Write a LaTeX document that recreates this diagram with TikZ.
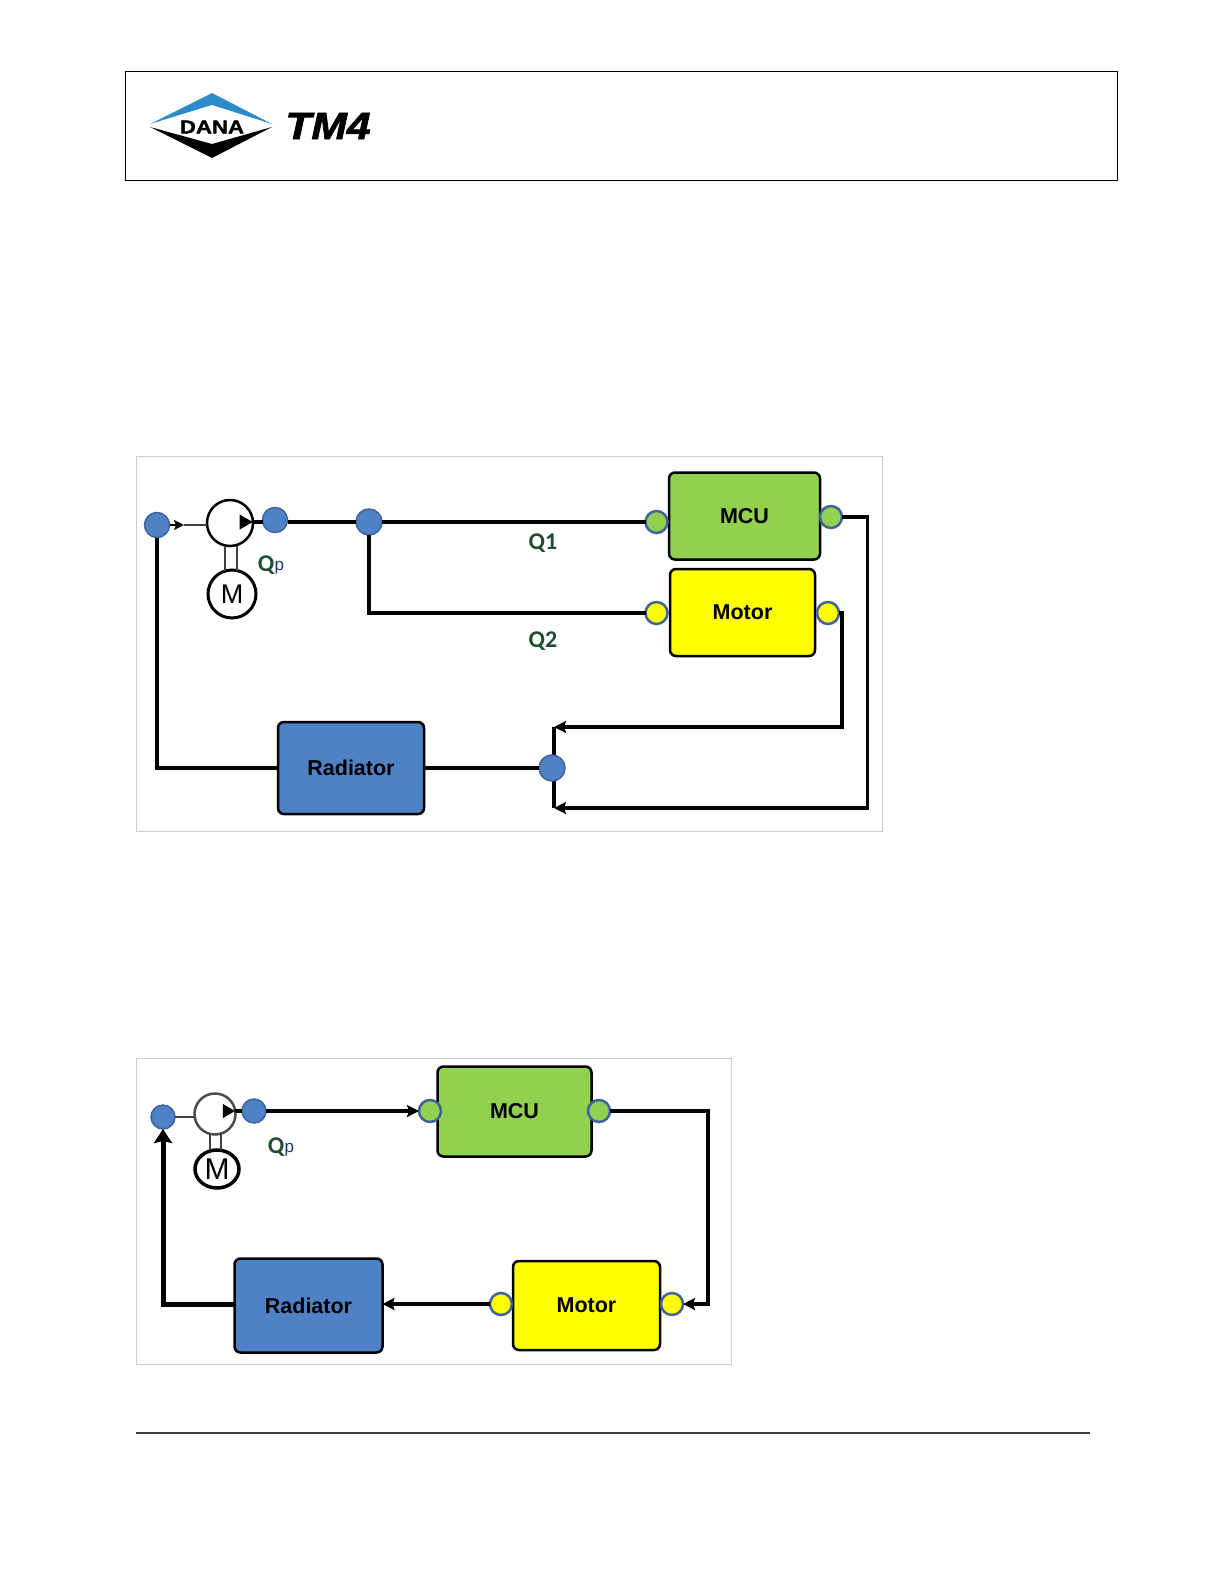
\documentclass[tikz,border=0pt]{standalone}
\usepackage{fontspec}
\setmainfont{Liberation Sans}
\newfontfamily\qfont{Carlito}
\newfontfamily\danafont[FakeBold=1.5,FakeStretch=1.2]{Liberation Sans Bold}
\newfontfamily\logofont[FakeBold=2,FakeStretch=1.12]{Liberation Sans Bold Italic}
\usetikzlibrary{shapes.geometric, arrows.meta, positioning, calc}
\definecolor{mcugreen}{HTML}{92D050}
\definecolor{motoryellow}{HTML}{FFFF00}
\definecolor{radblue}{HTML}{4F81C7}
\definecolor{portedge}{HTML}{41639A}
\definecolor{qgreen}{HTML}{1F4E2F}
\definecolor{danablue}{HTML}{2E8BC9}

\begin{document}
\begin{tikzpicture}[
  x=1pt, y=-1pt,
  box/.style={rectangle, draw, line width=2.5pt, rounded corners=6pt, inner sep=0pt, outer sep=0pt, font=\fontsize{21.5}{24}\selectfont\bfseries},
  port/.style={circle, draw=portedge, line width=2.5pt, minimum size=22pt, inner sep=0pt, outer sep=0pt},
  dotport/.style={port, fill=radblue, minimum size=25pt, line width=1.5pt},
  pump/.style={circle, draw, line width=2.5pt, fill=white, inner sep=0pt, outer sep=0pt},
  frame/.style={draw=black!20, line width=1pt},
  pipe/.style={line width=3.5pt},
  arrow/.style={pipe, -{Stealth[length=12pt, width=12pt, inset=2pt]}},
  thinpipe/.style={line width=2.5pt, black!75},
  qlabel/.style={font=\qfont\fontsize{24}{26}\selectfont\bfseries, text=qgreen, inner sep=0pt},
  plabel/.style={font=\fontsize{17}{18}\selectfont, text=qgreen!70!blue, inner sep=0pt},
  tip/.style={isosceles triangle, isosceles triangle stretches, fill=black, minimum height=13pt, minimum width=15pt, inner sep=0pt, outer sep=0pt},
]
\useasboundingbox (0,0) rectangle (1224,1584);

\node[draw, line width=1pt, minimum width=992pt, minimum height=109pt, inner sep=0pt] (header) at (621,126) {};
\fill[danablue] (150,124) -- (212,93) -- (272,124) -- (212,105) -- cycle;
\fill[black] (150,127) -- (212,158) -- (272,127) -- (212,144) -- cycle;
\node[font=\danafont\fontsize{18.5}{20}\selectfont, inner sep=0pt] (dana) at (212,127) {DANA};
\node[font=\logofont\fontsize{38}{40}\selectfont, inner sep=0pt] (tmfour) at (328,126) {TM4};

\node[frame, minimum width=746pt, minimum height=375pt, inner sep=0pt] (frameA) at (509,643.5) {};

\node[box, fill=mcugreen, minimum width=151pt, minimum height=87pt] (mcuA) at (744.5,516) {MCU};
\node[box, fill=motoryellow, minimum width=145pt, minimum height=87pt] (motorA) at (742.5,612.5) {Motor};
\node[box, fill=radblue, minimum width=146pt, minimum height=92pt] (radA) at (351,768) {Radiator};

\node[dotport] (inA) at (157,525) {};
\node[pump, minimum size=46pt] (pumpA) at (230,523) {};
\node[dotport] (outA) at (275,520) {};
\node[dotport, minimum size=26pt] (splitA) at (369,522) {};
\node[port, fill=mcugreen] (mcuInA) at (656.5,522) {};
\node[port, fill=mcugreen] (mcuOutA) at (831,517) {};
\node[port, fill=motoryellow] (motorInA) at (656.5,613) {};
\node[port, fill=motoryellow] (motorOutA) at (828,613) {};
\node[pump, minimum size=48pt, line width=3pt, font=\fontsize{27}{28}\selectfont] (fanA) at (232,594) {M};
\node[tip] (tipA) at (244,522) {};

\coordinate (arrowA) at (184,525);
\coordinate (shaftA) at (225,546);
\coordinate (shaftB) at (225,571);
\coordinate (shaftC) at (237,546);
\coordinate (shaftD) at (237,571);
\coordinate (cornerA) at (369,613);
\coordinate (mcuBackA) at (554,808);
\coordinate (motorBackA) at (554,727);
\coordinate (mcuRightA) at (867.5,517);
\coordinate (motorRightA) at (842,613);
\coordinate (radLeftA) at (157,768);

\draw[thinpipe, black, -{Stealth[length=10pt, width=10pt, inset=2pt]}] (inA) -- (arrowA);
\draw[thinpipe] (arrowA) -- (arrowA -| pumpA.west);
\draw[pipe] (tipA) -- (outA.west |- tipA);
\draw[pipe] (outA.east |- tipA) -- (splitA);
\draw[pipe] (splitA) -- (mcuInA);
\draw[pipe] (splitA) -- (cornerA) -- (motorInA);
\draw[thinpipe] (shaftA) -- (shaftB);
\draw[thinpipe] (shaftC) -- (shaftD);
\draw[arrow] (mcuOutA) -- (mcuRightA) |- (mcuBackA);
\draw[arrow] (motorOutA) -- (motorRightA) |- (motorBackA);
\draw[pipe] (motorBackA) -- (mcuBackA);
\node[dotport, minimum size=26pt] (mergeA) at (552,768) {};
\draw[pipe] (radA) -- (mergeA);
\draw[pipe] (radA) -- (radLeftA) -- (inA);

\node[qlabel] (qoneA) at (543,543) {Q1};
\node[qlabel] (qtwoA) at (543,641) {Q2};
\node[qlabel] (qpA) at (266,565) {Q};
\node[plabel, right=0pt of qpA, yshift=-3pt] (qpsubA) {p};

\node[frame, minimum width=595pt, minimum height=306pt, inner sep=0pt] (frameB) at (433.5,1211) {};

\node[box, fill=mcugreen, minimum width=154pt, minimum height=90pt] (mcuB) at (514.5,1111.5) {MCU};
\node[box, fill=motoryellow, minimum width=147pt, minimum height=89pt] (motorB) at (586.5,1305.5) {Motor};
\node[box, fill=radblue, minimum width=148pt, minimum height=94pt] (radB) at (308.5,1305.5) {Radiator};

\node[dotport, minimum size=24pt] (inB) at (163,1117) {};
\node[pump, minimum size=41pt, draw=black!70] (pumpB) at (215,1114) {};
\node[dotport, minimum size=24pt] (outB) at (254,1111) {};
\node[port, fill=mcugreen] (mcuInB) at (430,1111) {};
\node[port, fill=mcugreen] (mcuOutB) at (599,1111) {};
\node[port, fill=motoryellow] (motorInB) at (501,1304) {};
\node[port, fill=motoryellow] (motorOutB) at (672,1304) {};
\node[ellipse, draw, fill=white, inner sep=0pt, outer sep=0pt, minimum width=44pt, minimum height=38pt, line width=3.5pt, font=\fontsize{30}{32}\selectfont] (fanB) at (217,1169) {M};
\node[tip, minimum height=12pt, minimum width=14pt] (tipB) at (227,1111) {};

\coordinate (shaftE) at (210,1134);
\coordinate (shaftF) at (210,1150);
\coordinate (shaftG) at (221,1134);
\coordinate (shaftH) at (221,1150);
\coordinate (mcuRightB) at (708,1111);
\coordinate (motorRightB) at (708,1304);
\coordinate (radLeftB) at (163,1304);

\draw[thinpipe] (inB) -- (inB -| pumpB.west);
\draw[pipe] (tipB) -- (outB);
\draw[thinpipe] (shaftE) -- (shaftF);
\draw[thinpipe] (shaftG) -- (shaftH);
\draw[arrow] (outB) -- (mcuInB);
\draw[arrow] (mcuOutB) -- (mcuRightB) -- (motorRightB) -- (motorOutB);
\draw[arrow] (motorInB) -- (motorInB -| radB.east);
\draw[line width=5pt, -{Stealth[length=14pt, width=18pt, inset=2pt]}] (radLeftB -| radB.west) -- (radLeftB) -- (inB);

\node[qlabel] (qpB) at (276,1147) {Q};
\node[plabel, right=0pt of qpB, yshift=-3pt] (qpsubB) {p};

\draw[line width=1.2pt, black!75] (136,1433) -- (1090,1433);
\end{tikzpicture}
\end{document}
